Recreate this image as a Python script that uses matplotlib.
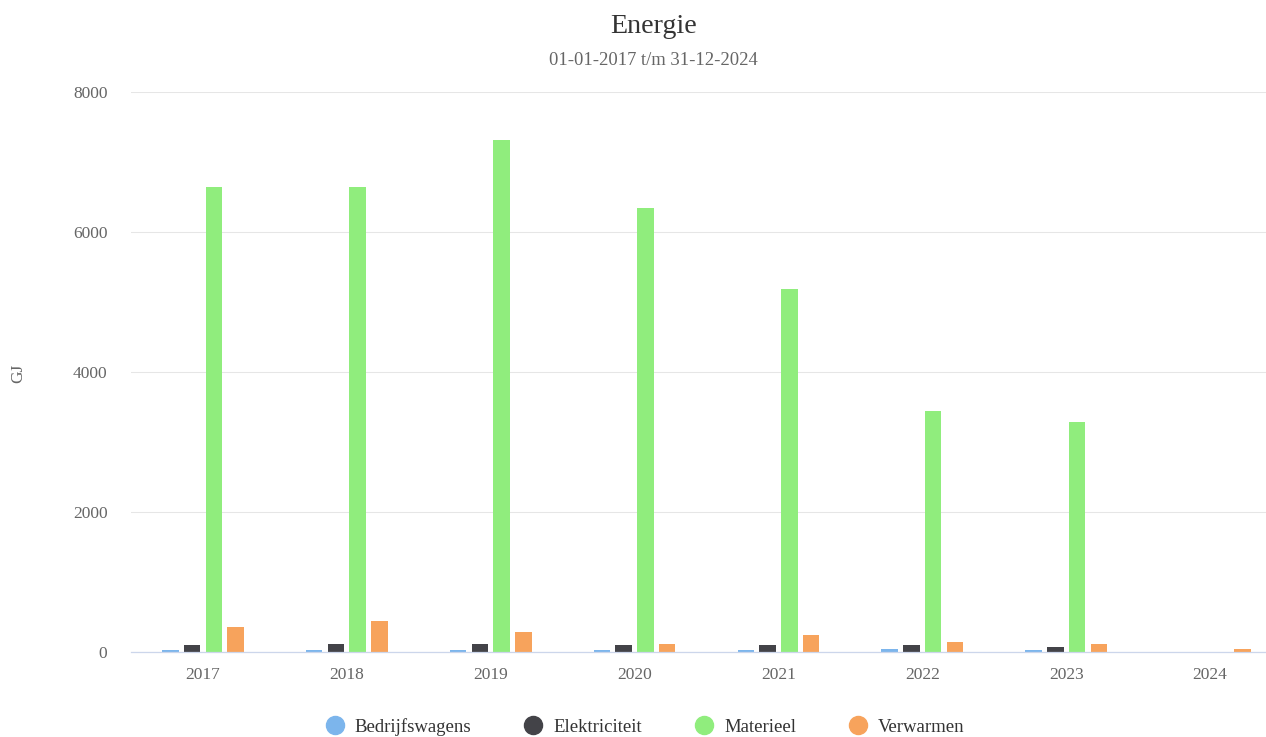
import numpy as np
import matplotlib
matplotlib.use("Agg")
import matplotlib.pyplot as plt
from matplotlib.lines import Line2D

plt.rcParams['font.family'] = ['Liberation Serif', 'DejaVu Serif']

years = ['2017', '2018', '2019', '2020', '2021', '2022', '2023', '2024']
bedrijfswagens = [29, 29, 29, 29, 29, 43, 29, 0]
elektriciteit = [95, 114, 114, 95, 95, 95, 71, 0]
materieel = [6643, 6640, 7314, 6343, 5186, 3443, 3286, 0]
verwarmen = [357, 443, 290, 114, 243, 138, 114, 43]

series_names = ['Bedrijfswagens', 'Elektriciteit', 'Materieel', 'Verwarmen']
series_values = [bedrijfswagens, elektriciteit, materieel, verwarmen]
colors = ['#7cb5ec', '#434348', '#90ed7d', '#f7a35c']

W, H = 1266, 737
fig = plt.figure(figsize=(W / 100, H / 100), dpi=100)
ax = fig.add_axes([131 / W, (H - 652) / H, (W - 131) / W, 560 / H])

x = np.arange(len(years))
step = 0.151
bw = 0.115
for i, (name, vals) in enumerate(zip(series_names, series_values)):
    ax.bar(x + (i - 1.5) * step, vals, width=bw, color=colors[i],
           edgecolor='none', zorder=3)

ax.set_ylim(0, 8000)
ax.set_xlim(-0.5, 7.5 - 16 / 143.9)
ax.set_yticks([0, 2000, 4000, 6000, 8000])
ax.set_xticks(x)
ax.set_xticklabels(years)
ax.tick_params(axis='x', length=0, pad=11, labelsize=12.5, labelcolor='#666666')
ax.tick_params(axis='y', length=0, pad=17, labelsize=12.5, labelcolor='#666666')
ax.grid(axis='y', color='#e6e6e6', linewidth=0.75, zorder=0)
ax.set_axisbelow(True)
for s in ['top', 'right', 'left']:
    ax.spines[s].set_visible(False)
ax.spines['bottom'].set_color('#ccd6eb')
ax.spines['bottom'].set_linewidth(0.9)
ax.spines['bottom'].set_zorder(4)

fig.text(653.5 / W, (H - 33) / H, 'Energie', ha='center', va='baseline',
         fontsize=20.2, color='#333333')
fig.text(653.5 / W, (H - 65) / H, '01-01-2017 t/m 31-12-2024', ha='center',
         va='baseline', fontsize=13.4, color='#666666')
fig.text(18 / W, (H - 373) / H, 'GJ', rotation=90, ha='center', va='center',
         fontsize=12.5, color='#666666')

handles = [Line2D([0], [0], marker='o', linestyle='none', markersize=13,
                  markerfacecolor=c, markeredgecolor=c) for c in colors]
fig.legend(handles, series_names, loc='center', ncol=4,
           bbox_to_anchor=(645 / W, (H - 727) / H), frameon=False,
           fontsize=13.5, labelcolor='#333333', handlelength=1.0,
           handletextpad=0.57, columnspacing=2.8, borderpad=0)

fig.savefig('out.png', dpi=100)
